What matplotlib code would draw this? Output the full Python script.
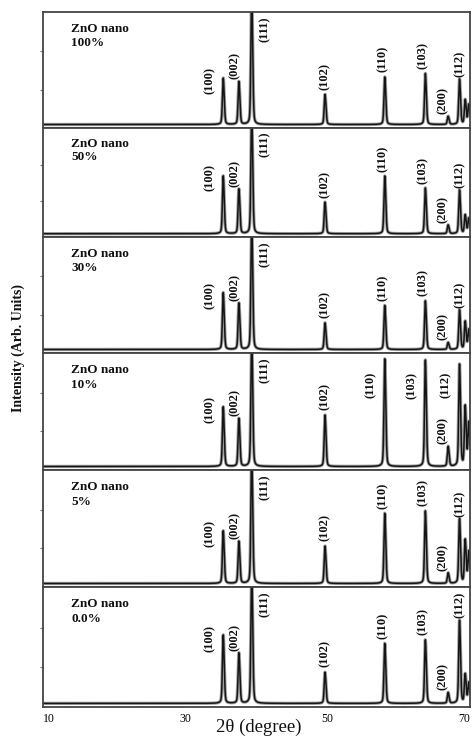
import numpy as np
import matplotlib
matplotlib.use("Agg")
import matplotlib.pyplot as plt

# ---------------- data ----------------
panel_labels = ["100%", "50%", "30%", "10%", "5%", "0.0%"]
hkl = ["(100)", "(002)", "(111)", "(102)", "(110)", "(103)", "(200)", "(112)"]
peak_pos = [35.3, 37.5, 39.3, 49.6, 58.0, 63.7, 66.9, 68.5]
extra_pos = [69.3, 69.8]

heights_100 = [0.43, 0.40, 1.15, 0.29, 0.44, 0.47, 0.10, 0.42]
heights_50 = [0.56, 0.44, 1.15, 0.32, 0.56, 0.45, 0.11, 0.43]
heights_30 = [0.52, 0.43, 1.15, 0.26, 0.41, 0.45, 0.09, 0.37]
heights_10 = [0.54, 0.44, 1.15, 0.47, 0.95, 0.94, 0.20, 0.90]
heights_5 = [0.48, 0.39, 1.15, 0.35, 0.63, 0.65, 0.12, 0.58]
heights_0 = [0.60, 0.45, 1.15, 0.29, 0.53, 0.56, 0.12, 0.72]
all_heights = [heights_100, heights_50, heights_30, heights_10, heights_5, heights_0]

extra_100 = [0.24, 0.20]
extra_50 = [0.20, 0.17]
extra_30 = [0.27, 0.20]
extra_10 = [0.54, 0.40]
extra_5 = [0.40, 0.30]
extra_0 = [0.27, 0.20]
all_extra = [extra_100, extra_50, extra_30, extra_10, extra_5, extra_0]

baseline = 0.03
x_ticks = [10, 30, 50, 70]

# ---------------- style ----------------
serif = ["Liberation Serif", "DejaVu Serif"]
lab_dx = {"(100)": -1.9, "(002)": -0.6, "(111)": 1.8, "(102)": 0.0,
          "(110)": -0.3, "(103)": -0.4, "(200)": -0.7, "(112)": 0.0}
lab_gap = {"(100)": -0.14, "(002)": 0.02, "(111)": 0.0, "(102)": 0.04,
           "(110)": 0.04, "(103)": 0.04, "(200)": 0.02, "(112)": 0.02}

x = np.linspace(10, 70, 8000)


def pv(d, s=0.1, g=0.13):
    return 0.7 * np.exp(-d ** 2 / (2 * s ** 2)) + 0.3 / (1 + (d / g) ** 2)


_dd = np.linspace(-1, 1, 4001)
_norm = (pv(_dd) + 0.45 * pv(_dd - 0.14)).max()


def profile(d):
    return (pv(d) + 0.45 * pv(d - 0.14)) / _norm


fig = plt.figure(figsize=(4.74, 7.40), dpi=100)
gs = fig.add_gridspec(6, 1, height_ratios=[116, 109, 116, 117, 117, 120], hspace=0,
                      left=0.0907, right=0.9916, top=0.9838, bottom=0.0446)

for i in range(6):
    ax = fig.add_subplot(gs[i])
    hs = all_heights[i]
    ex = all_extra[i]
    y = np.full_like(x, baseline)
    for p, h in zip(peak_pos, hs):
        y += (h - baseline) * profile(x - p)
    for p, h in zip(extra_pos, ex):
        y += (h - baseline) * profile(x - p)
    ax.plot(x, y, color="#a0a0a0", lw=2.4, solid_joinstyle="round")
    ax.plot(x, y, color="#151515", lw=1.1)
    ax.set_xlim(10, 70)
    ax.set_ylim(0, 1)

    for name, p, h in zip(hkl, peak_pos, hs):
        if name == "(111)":
            ax.text(p + lab_dx[name], 0.965, name, rotation=90, ha="center", va="top",
                    fontsize=9, fontweight="bold", family=serif, color="#111")
        elif h > 0.75:
            ax.text(p - 1.9, 0.84, name, rotation=90, ha="center", va="top",
                    fontsize=9, fontweight="bold", family=serif, color="#111")
        else:
            ax.text(p + lab_dx[name], h + lab_gap[name], name, rotation=90,
                    ha="center", va="bottom", fontsize=9, fontweight="bold",
                    family=serif, color="#111")

    ax.text(14.0, 0.855, "ZnO nano", ha="left", va="center", fontsize=9.5,
            fontweight="bold", family=serif, color="#111")
    ax.text(14.0, 0.73, panel_labels[i], ha="left", va="center", fontsize=9.5,
            fontweight="bold", family=serif, color="#111")

    for sp in ax.spines.values():
        sp.set_color("#444444")
        sp.set_linewidth(1.3)
    ax.set_yticks([0.33, 0.66])
    ax.set_yticklabels([])
    ax.tick_params(axis="y", direction="out", length=2, width=0.8, color="#777")
    if i < 5:
        ax.set_xticks([])
    else:
        ax.set_xticks(x_ticks)
        ax.set_xticklabels([str(t) for t in x_ticks], family=serif, fontsize=8.5)
        ax.tick_params(axis="x", length=0, pad=4)
        tl = ax.get_xticklabels()
        tl[0].set_horizontalalignment("left")
        tl[-1].set_horizontalalignment("right")

fig.text(0.038, 0.53, "Intensity (Arb. Units)", rotation=90, ha="center", va="center",
         fontsize=10, fontweight="bold", family=serif, color="#111")
fig.text(0.546, 0.0165, "2θ (degree)", ha="center", va="center",
         fontsize=13.5, family=serif, color="#111")

fig.savefig("out.png", dpi=100)
